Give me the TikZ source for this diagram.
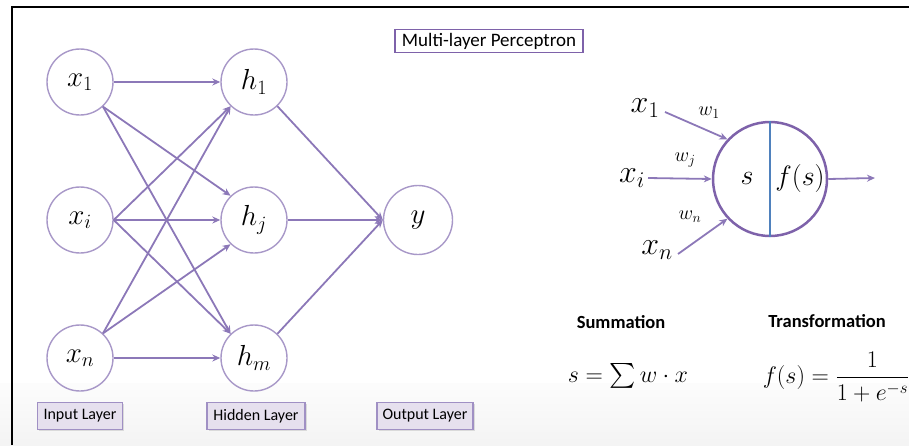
\RequirePackage{fix-cm}
\documentclass[tikz,border=0pt]{standalone}
\usepackage{amsmath}
\usepackage{fontspec}
\newfontfamily\carl{Carlito}
\usetikzlibrary{arrows.meta,shadows}
\definecolor{ncirc}{HTML}{A898C8}
\definecolor{nline}{HTML}{8C78B8}
\definecolor{pcirc}{HTML}{7E62AA}
\definecolor{pline}{HTML}{4F81BD}
\definecolor{lblfill}{HTML}{E6E0EE}
\definecolor{lbldraw}{HTML}{A090C4}
\begin{document}
\begin{tikzpicture}[x=1pt,y=-1pt,
  neuron/.style={circle,draw=ncirc,line width=1.4pt,minimum size=66pt,inner sep=0pt,font=\fontsize{29}{32}\selectfont},
  conn/.style={draw=nline,line width=1.8pt,-{Stealth[length=8pt,width=7pt]}},
  layerlbl/.style={draw=lbldraw,fill=lblfill,line width=1.2pt,minimum width=85pt,minimum height=27pt,inner sep=2pt,
    font=\carl\fontsize{16}{18}\selectfont,drop shadow={shadow xshift=1.5pt,shadow yshift=-1.5pt,fill=black!25}},
  titlebox/.style={draw=pcirc,line width=1.5pt,fill=white,minimum width=188pt,minimum height=23pt,inner sep=2pt,
    font=\carl\fontsize{19}{21}\selectfont},
  plabel/.style={inner sep=0pt,font=\fontsize{32}{36}\selectfont},
  wlabel/.style={inner sep=0pt,font=\fontsize{20}{24}\selectfont},
  inner/.style={inner sep=0pt,font=\fontsize{28}{32}\selectfont},
  heading/.style={inner sep=0pt,font=\carl\bfseries\fontsize{18.5}{20}\selectfont},
  formula/.style={inner sep=0pt,font=\fontsize{24}{28}\selectfont}]
\useasboundingbox (0,0) rectangle (909,445);
% background band and frame
\shade[top color=gray!2,bottom color=gray!9] (0,383) rectangle (909,445);
\draw[black,line width=2.2pt] (12,445) -- (12,7) -- (909,7);

% network
\node[neuron] (x1) at (80,82) {$x_1$};
\node[neuron] (xi) at (80,220) {$x_i$};
\node[neuron] (xn) at (80,358) {$x_n$};
\node[neuron] (h1) at (254,82) {$h_1$};
\node[neuron] (hj) at (254,220) {$h_j$};
\node[neuron] (hm) at (254,358) {$h_m$};
\node[neuron,minimum size=69pt] (y) at (418,220) {$y$};

\draw[conn] (x1.east) -- (h1.west);
\draw[conn] (x1.-47) -- (hj.134);
\draw[conn] (x1.-47) -- (hm.134);
\draw[conn] (xi.east) -- (h1.226);
\draw[conn] (xi.east) -- (hj.west);
\draw[conn] (xi.east) -- (hm.134);
\draw[conn] (xn.47) -- (h1.226);
\draw[conn] (xn.47) -- (hj.226);
\draw[conn] (xn.east) -- (hm.west);
\draw[conn] (h1.-46) -- (y.west);
\draw[conn] (hj.east) -- (y.west);
\draw[conn] (hm.46) -- (y.west);

\node[layerlbl] (lin) at (80,416) {Input Layer};
\node[layerlbl,minimum width=98pt] (lhid) at (256,416) {Hidden Layer};
\node[layerlbl,minimum width=96pt] (lout) at (425,416) {Output Layer};

\node[titlebox] (title) at (489,41) {Multi-layer Perceptron};

% perceptron
\node[circle,draw=pcirc,line width=2.5pt,minimum size=114pt,inner sep=0pt] (P) at (770,179) {};
\draw[pline,line width=1.2pt] (P.north) -- (P.south);
\node[inner] (ps) at (747,178) {$s$};
\node[inner] (pf) at (800,178) {$f(s)$};

\node[plabel] (px1) at (645,108) {$x_1$};
\node[plabel] (pxi) at (632,178) {$x_i$};
\node[plabel] (pxn) at (657,250) {$x_n$};
\node[wlabel] (pw1) at (709,113) {$w_1$};
\node[wlabel] (pwj) at (685,160) {$w_j$};
\node[wlabel] (pwn) at (690,217) {$w_n$};

\coordinate (a1) at (665,112);
\coordinate (ai) at (648,178);
\coordinate (an) at (678,254);
\coordinate (aout) at (875,178);
\draw[conn] (a1) -- (P.137);
\draw[conn] (ai) -- (P.west);
\draw[conn] (an) -- (P.223);
\draw[conn] (P.east) -- (aout);

\node[heading] (hsum) at (621,322) {Summation};
\node[heading] (htr) at (827,321) {Transformation};
\node[formula] (fsum) at (628,376) {$s=\sum w\cdot x$};
\node[formula] (ftr) at (836,377) {$f(s)=\dfrac{1}{1+e^{-s}}$};
\end{tikzpicture}
\end{document}
